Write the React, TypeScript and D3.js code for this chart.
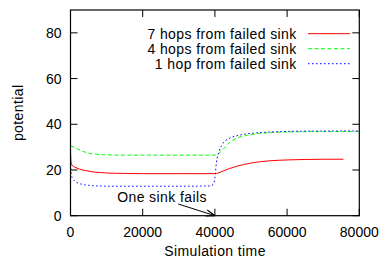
import React from "react";
import * as d3 from "d3";

const xTicks = [0, 20000, 40000, 60000, 80000];
const yTicks = [0, 20, 40, 60, 80];

const redT = [0, 150, 400, 800, 1500, 2500, 4000, 6000, 8000, 10000, 15000, 20000, 30000, 40000, 40800, 42000, 44000, 46000, 48000, 51000, 55000, 60000, 65000, 70000, 75600];
const redV = [28, 23.5, 22.2, 21.6, 21, 20.4, 19.8, 19.2, 18.9, 18.7, 18.5, 18.4, 18.4, 18.4, 18.6, 19.4, 20.6, 21.6, 22.4, 23.3, 24.0, 24.4, 24.6, 24.7, 24.7];

const greenT = [0, 1000, 2000, 3000, 4500, 6000, 8000, 10000, 15000, 20000, 30000, 40000, 41000, 42200, 44000, 46000, 49000, 52000, 56000, 62000, 70000, 80000];
const greenV = [30.5, 30.0, 29.2, 28.4, 27.6, 27.1, 26.8, 26.6, 26.5, 26.5, 26.5, 26.5, 27.2, 28.9, 32.0, 33.9, 35.2, 35.9, 36.4, 36.7, 36.8, 36.8];

const blueT = [0, 100, 300, 700, 1500, 3000, 5000, 8000, 12000, 20000, 30000, 38500, 39500, 40000, 40400, 41300, 42200, 44000, 47000, 52000, 58000, 65000, 80000];
const blueV = [26, 20.5, 17.5, 16.0, 14.8, 13.8, 13.3, 13.0, 12.9, 12.9, 12.9, 13.0, 13.6, 16.5, 23.0, 28.7, 31.6, 33.8, 35.3, 36.3, 36.8, 37.0, 37.1];

const series = [
  { label: "7 hops from failed sink", t: redT, v: redV, color: "#ff0000", dash: "none" },
  { label: "4 hops from failed sink", t: greenT, v: greenV, color: "#00ff00", dash: "4,2.5" },
  { label: "1 hop from failed sink", t: blueT, v: blueV, color: "#0000ff", dash: "1.5,2.5" },
];

const W = 385, H = 262;
const L = 70.5, R = 359.3, T = 10, B = 215.7;
const font = "'Liberation Sans', Arial, Helvetica, sans-serif";
const FS = 14;
const LS = 0.4;

export default function App() {
  const x = d3.scaleLinear().domain([0, 80000]).range([L, R]);
  const y = d3.scaleLinear().domain([0, 90]).range([B, T]);
  const line = d3.line<[number, number]>().x(d => x(d[0])).y(d => y(d[1])).curve(d3.curveMonotoneX);
  const tl = 7;
  return (
    <svg width={W} height={H} style={{ position: "absolute", left: 0, top: 0, background: "#fff" }} fontFamily={font}>
      <defs>
        <marker id="arr" viewBox="0 0 10 10" refX="10" refY="5" markerWidth="9" markerHeight="9" orient="auto" markerUnits="userSpaceOnUse">
          <path d="M0,1.5 L10,5 L0,8.5" fill="none" stroke="#000" strokeWidth={1.2} />
        </marker>
      </defs>
      {xTicks.map(t => (
        <g key={"x" + t}>
          <line x1={x(t)} x2={x(t)} y1={B} y2={B - tl} stroke="#000" strokeWidth={1} />
          <line x1={x(t)} x2={x(t)} y1={T} y2={T + tl} stroke="#000" strokeWidth={1} />
          <text x={x(t)} y={237} textAnchor="middle" fontSize={FS} fill="#000">{t}</text>
        </g>
      ))}
      {yTicks.map(t => (
        <g key={"y" + t}>
          <line x1={L} x2={L + tl} y1={y(t)} y2={y(t)} stroke="#000" strokeWidth={1} />
          <line x1={R} x2={R - tl} y1={y(t)} y2={y(t)} stroke="#000" strokeWidth={1} />
          <text x={61.5} y={y(t) + 5} textAnchor="end" fontSize={FS} fill="#000">{t}</text>
        </g>
      ))}
      <text x={215} y={255.5} textAnchor="middle" fontSize={FS} letterSpacing={LS}>Simulation time</text>
      <text transform={`translate(23,${(T + B) / 2}) rotate(-90)`} textAnchor="middle" fontSize={FS} letterSpacing={LS}>potential</text>
      {series.map(s => (
        <path key={s.label} d={line(s.t.map((t, i) => [t, s.v[i]] as [number, number])) || ""} fill="none" stroke={s.color} strokeWidth={1} strokeDasharray={s.dash} />
      ))}
      {series.map((s, i) => {
        const ly = 33.7 + i * 15;
        return (
          <g key={"lg" + i}>
            <text x={296.7} y={ly + 5} textAnchor="end" fontSize={FS} letterSpacing={LS}>{s.label}</text>
            <line x1={308} x2={350} y1={ly} y2={ly} stroke={s.color} strokeWidth={1} strokeDasharray={s.dash} />
          </g>
        );
      })}
      <text x={162} y={201.7} textAnchor="middle" fontSize={FS} letterSpacing={LS}>One sink fails</text>
      <line x1={178.3} y1={204} x2={x(40000)} y2={y(0)} stroke="#000" strokeWidth={1} markerEnd="url(#arr)" />
      <rect x={L} y={T} width={R - L} height={B - T} fill="none" stroke="#000" strokeWidth={1.2} />
    </svg>
  );
}
